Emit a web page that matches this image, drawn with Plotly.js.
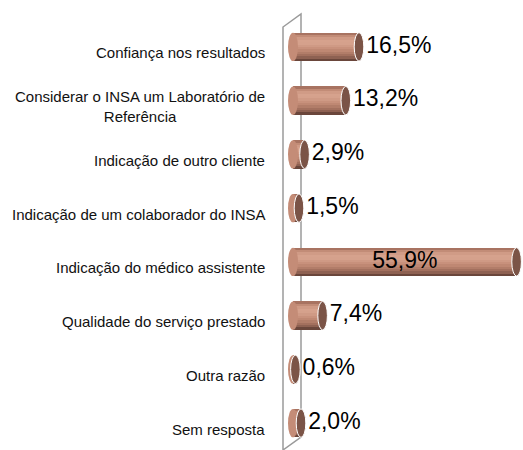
<!DOCTYPE html>
<html>
<head>
<meta charset="utf-8">
<script src="https://cdn.plot.ly/plotly-3.0.1.min.js"></script>
<style>html,body{margin:0;padding:0;background:#fff;}#chart{width:523px;height:450px;}</style>
</head>
<body>
<div id="chart"></div>
<script>
const categories = [
  "Confiança nos resultados",
  "Considerar o INSA um Laboratório de<br>Referência",
  "Indicação de outro cliente",
  "Indicação de um colaborador do INSA",
  "Indicação do médico assistente",
  "Qualidade do serviço prestado",
  "Outra razão",
  "Sem resposta"
];
const values = [16.5, 13.2, 2.9, 1.5, 55.9, 7.4, 0.6, 2.0];
const valueLabels = ["16,5%", "13,2%", "2,9%", "1,5%", "55,9%", "7,4%", "0,6%", "2,0%"];

const idx = categories.map((c, i) => i);
const bandColors = ["#a87361", "#c28c77", "#d09b86", "#d6a28d", "#d5a18c", "#cf9a85", "#c8917c", "#bf8873", "#b27d69", "#a3705e", "#8e6152", "#6a463b"];
const barW = 0.53;
const bandW = barW / bandColors.length;

const traces = bandColors.map((col, j) => ({
  type: "bar", orientation: "h",
  x: values, y: idx,
  width: bandW * 1.02, offset: -barW / 2 + j * bandW,
  marker: { color: col, line: { width: 0 } },
  hoverinfo: "skip", showlegend: false
}));

traces.push({
  type: "scatter", mode: "text",
  x: values.map(v => v > 40 ? v / 2 : v + 1.8),
  y: idx,
  text: valueLabels,
  textposition: values.map(v => v > 40 ? "middle center" : "middle right"),
  textfont: { family: "Liberation Sans, Arial, sans-serif", size: 23, color: "#000" },
  hoverinfo: "skip", showlegend: false
});

const shapes = [];
// 3D frame
shapes.push({
  type: "path", xref: "paper", yref: "paper", layer: "below",
  path: "M 0,0 L 0,0.9837 L 0.075,1.014 L 0.075,0.0302 Z",
  line: { color: "#9a9a9a", width: 1.5 }, fillcolor: "rgba(0,0,0,0)"
});
values.forEach((v, i) => {
  // left rounded end
  shapes.push({
    type: "circle", xref: "x", yref: "y", layer: "above",
    x0: -1.25, x1: 1.25, y0: i - barW / 2, y1: i + barW / 2,
    fillcolor: "#c48c77", line: { width: 0 }
  });
});
values.forEach((v, i) => {
  // right cap
  shapes.push({
    type: "circle", xref: "x", yref: "y", layer: "above",
    x0: v - 1.2, x1: v + 1.2, y0: i - barW / 2, y1: i + barW / 2,
    fillcolor: "#7b5447", line: { color: "#ffffff", width: 1 }
  });
});

const annotations = categories.map((c, i) => ({
  xref: "paper", yref: "y", x: -0.067, y: i, yshift: -6,
  xanchor: "right", yanchor: "middle", align: "center",
  text: c, showarrow: false,
  font: { family: "Liberation Sans, Arial, sans-serif", size: 15, color: "#111" }
}));

const layout = {
  width: 523, height: 450,
  margin: { l: 283, r: 0, t: 20, b: 0 },
  paper_bgcolor: "#fff", plot_bgcolor: "rgba(0,0,0,0)",
  barmode: "overlay", bargap: 0,
  showlegend: false,
  xaxis: { range: [-2.5, 57.5], showgrid: false, zeroline: false, showticklabels: false, showline: false, fixedrange: true },
  yaxis: { range: [7.5, -0.5], showgrid: false, zeroline: false, showticklabels: false, showline: false, fixedrange: true },
  shapes: shapes,
  annotations: annotations
};

Plotly.newPlot("chart", traces, layout, { displayModeBar: false, staticPlot: true });
</script>
</body>
</html>
